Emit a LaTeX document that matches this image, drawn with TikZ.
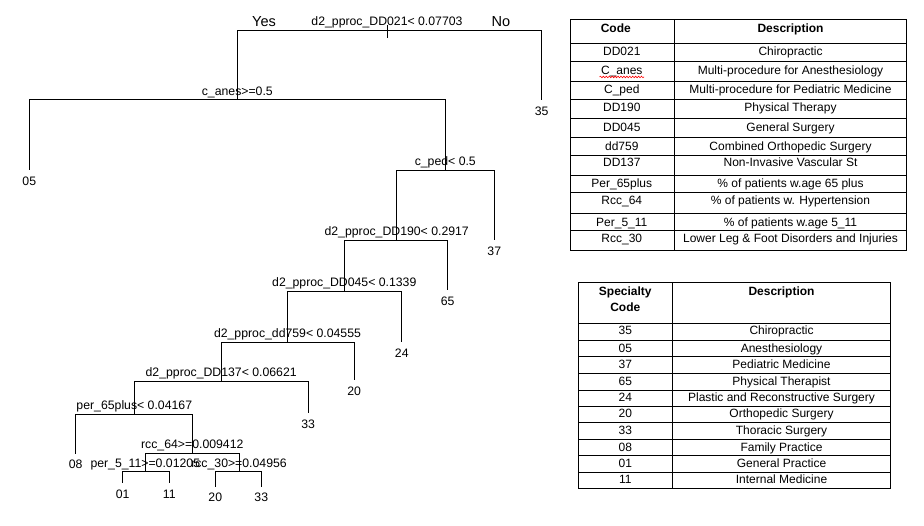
\documentclass[tikz,border=0pt]{standalone}
\usepackage{fontspec}
\setmainfont{Liberation Sans}
\usetikzlibrary{calc,decorations.pathmorphing}
\newlength\wpre
\newlength\wage
\newcommand\cellfont{\fontsize{9}{11}\selectfont}
\newcommand\treefont{\fontsize{9.2}{11}\selectfont}
\begin{document}
\begin{tikzpicture}[x=0.75pt,y=-0.75pt,
  br/.style={line width=0.75pt, black},
  tl/.style={line width=0.75pt, black},
  split/.style={font=\treefont, inner sep=0pt, anchor=base},
  leaf/.style={font=\treefont, inner sep=0pt, anchor=center},
  yn/.style={font=\fontsize{10.9}{13}\selectfont, inner sep=0pt, anchor=base},
  cell/.style={font=\cellfont, inner sep=0pt, anchor=base},
  hcell/.style={font=\cellfont\bfseries, inner sep=0pt, anchor=base},
  squig/.style={red, line width=0.45pt, decorate, decoration={snake, segment length=2.2pt, amplitude=0.6pt}}
]
\useasboundingbox (0,0) rectangle (924,525);
\settowidth\wpre{\cellfont\% of patients }
\settowidth\wage{\cellfont w.age}

% ---------------- tree ----------------
\coordinate (root)  at (387,30.3);
\coordinate (canes) at (237.3,99);
\coordinate (l35)   at (541.7,100);
\coordinate (l05)   at (29.3,170);
\coordinate (cped)  at (445.3,170.3);
\coordinate (dd190) at (396.7,240);
\coordinate (l37)   at (494.3,240);
\coordinate (dd045) at (344.3,291);
\coordinate (l65)   at (447.7,290);
\coordinate (dd759) at (287.5,342.3);
\coordinate (l24)   at (401.8,341.7);
\coordinate (dd137) at (221.2,381);
\coordinate (l20)   at (354.2,380);
\coordinate (p65)   at (134.3,414.3);
\coordinate (l33)   at (308.2,413.3);
\coordinate (l08)   at (75.7,454);
\coordinate (rcc64) at (192.3,453.3);
\coordinate (p511)  at (145.3,471.3);
\coordinate (rcc30) at (239,471.3);
\coordinate (l01)   at (122.7,483.3);
\coordinate (l11)   at (169.3,483.3);
\coordinate (l20b)  at (215.3,486.7);
\coordinate (l33b)  at (261.3,486.7);

\draw[br] (root) -| (canes);  \draw[br] (root) -| (l35);
\draw[br] (canes) -| (l05);   \draw[br] (canes) -| (cped);
\draw[br] (cped) -| (dd190);  \draw[br] (cped) -| (l37);
\draw[br] (dd190) -| (dd045); \draw[br] (dd190) -| (l65);
\draw[br] (dd045) -| (dd759); \draw[br] (dd045) -| (l24);
\draw[br] (dd759) -| (dd137); \draw[br] (dd759) -| (l20);
\draw[br] (dd137) -| (p65);   \draw[br] (dd137) -| (l33);
\draw[br] (p65) -| (l08);     \draw[br] (p65) -| (rcc64);
\draw[br] (rcc64) -| (p511);  \draw[br] (rcc64) -| (rcc30);
\draw[br] (p511) -| (l01);    \draw[br] (p511) -| (l11);
\draw[br] (rcc30) -| (l20b);  \draw[br] (rcc30) -| (l33b);
\draw[br] (root) ++(0,-5.3) -- ++(0,13);

\path (root)  ++(0,-4.6) node[split] (troot)  {d2\_pproc\_DD021< 0.07703};
\path (canes) ++(0,-3.6) node[split] (tcanes) {c\_anes>=0.5};
\path (cped)  ++(0,-4.6) node[split] (tcped)  {c\_ped< 0.5};
\path (dd190) ++(0,-5)   node[split] (tdd190) {d2\_pproc\_DD190< 0.2917};
\path (dd045) ++(0,-5)   node[split] (tdd045) {d2\_pproc\_DD045< 0.1339};
\path (dd759) ++(0,-5)   node[split] (tdd759) {d2\_pproc\_dd759< 0.04555};
\path (dd137) ++(0,-5)   node[split] (tdd137) {d2\_pproc\_DD137< 0.06621};
\path (p65)   ++(0,-5)   node[split] (tp65)   {per\_65plus< 0.04167};
\path (rcc64) ++(0,-4.5) node[split] (trcc64) {rcc\_64>=0.009412};
\path (p511)  ++(0,-4)   node[split] (tp511)  {per\_5\_11>=0.01205};
\path (rcc30) ++(0,-4)   node[split] (trcc30) {rcc\_30>=0.04956};

\node[yn] (yes) at (264,26.7) {Yes};
\node[yn] (no)  at (501,26.7) {No};

\path (l35)  ++(0,11.2) node[leaf] (t35)  {35};
\path (l05)  ++(0,11.5) node[leaf] (t05)  {05};
\path (l37)  ++(0,11.2) node[leaf] (t37)  {37};
\path (l65)  ++(0,11.5) node[leaf] (t65)  {65};
\path (l24)  ++(0,12)   node[leaf] (t24)  {24};
\path (l20)  ++(0,11.5) node[leaf] (t20)  {20};
\path (l33)  ++(0,11)   node[leaf] (t33)  {33};
\path (l08)  ++(0,10.5) node[leaf] (t08)  {08};
\path (l01)  ++(0,11)   node[leaf] (t01)  {01};
\path (l11)  ++(0,11)   node[leaf] (t11)  {11};
\path (l20b) ++(0,11)   node[leaf] (t20b) {20};
\path (l33b) ++(0,11)   node[leaf] (t33b) {33};

% ---------------- table 1 ----------------
\foreach \y in {19,43.7,61.5,81,99.5,118.3,137,155,175.2,192.7,213.3,230.7,250.3}
  \draw[tl] (570,\y) -- (906.7,\y);
\foreach \x in {570,674.3,906.7}
  \draw[tl] (\x,19) -- (\x,250.3);
\node[hcell] (h1a) at (615.8,32.3) {Code};
\node[hcell] (h1b) at (790.5,32.3) {Description};
\foreach \b/\c/\d [count=\i] in {
  55.3/DD021/Chiropractic,
  74.3/C\_anes/Multi-procedure for Anesthesiology,
  93.6/C\_ped/Multi-procedure for Pediatric Medicine,
  111.6/DD190/Physical Therapy,
  131.6/DD045/General Surgery,
  150/dd759/Combined Orthopedic Surgery,
  166.3/DD137/Non-Invasive Vascular St,
  187.6/Per\_65plus/\% of patients w.age 65 plus,
  204.6/Rcc\_64/\% of patients w. Hypertension,
  226/Per\_5\_11/\% of patients w.age 5\_11,
  242.6/Rcc\_30/Lower Leg \& Foot Disorders and Injuries}
{
  \node[cell] (ta\i) at (621.8,\b) {\c};
  \node[cell] (tb\i) at (790.5,\b) {\d};
}
\draw[squig] ($(ta2.base west)+(-1pt,-2pt)$) -- ($(ta2.base east)+(1pt,-2pt)$);
\draw[squig] ($(tb8.base west)+(\wpre,-2pt)$) -- ++(\wage,0pt);
\draw[squig] ($(tb10.base west)+(\wpre,-2pt)$) -- ++(\wage,0pt);

% ---------------- table 2 ----------------
\foreach \y in {282.3,323.3,340,356.7,373.3,390,406,422.7,439.3,455.3,472,488.3}
  \draw[tl] (578.3,\y) -- (890.7,\y);
\foreach \x in {578.3,672.3,890.7}
  \draw[tl] (\x,282.3) -- (\x,488.3);
\node[hcell] (h2a) at (625.3,295) {Specialty};
\node[hcell] (h2c) at (625.3,311.7) {Code};
\node[hcell] (h2b) at (781.5,295) {Description};
\foreach \b/\c/\d [count=\i] in {
  334.3/35/Chiropractic,
  352/05/Anesthesiology,
  368.3/37/Pediatric Medicine,
  385/65/Physical Therapist,
  401.3/24/Plastic and Reconstructive Surgery,
  417.6/20/Orthopedic Surgery,
  434/33/Thoracic Surgery,
  451/08/Family Practice,
  467.6/01/General Practice,
  483.6/11/Internal Medicine}
{
  \node[cell] (sa\i) at (625.3,\b) {\c};
  \node[cell] (sb\i) at (781.5,\b) {\d};
}
\end{tikzpicture}
\end{document}
